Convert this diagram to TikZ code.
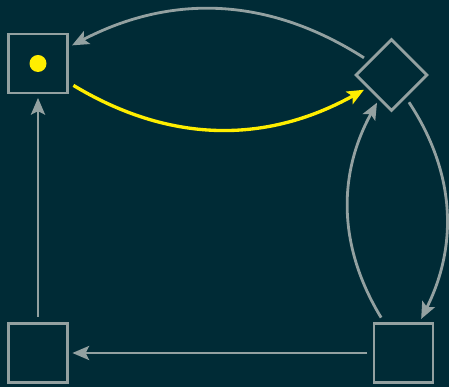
\documentclass[tikz,border=0pt]{standalone}
\usepackage{xcolor}
\usepackage{tikz}
\usetikzlibrary{arrows.meta,positioning,shapes.geometric}

\definecolor{bgteal}{HTML}{002B36}
\definecolor{edgegray}{HTML}{93A1A1}
\definecolor{tokyellow}{HTML}{FFEE00}

\begin{document}
\begin{tikzpicture}[
  >={Stealth[length=9.5pt,width=8pt,inset=2pt]},
  state/.style={draw=edgegray, rectangle, line width=1.6pt,
                minimum size=1.18cm, inner sep=0pt},
  choice/.style={draw=edgegray, diamond, aspect=1, line width=1.6pt,
                 minimum size=1.44cm, inner sep=0pt},
  token/.style={circle, fill=tokyellow, minimum size=0.34cm, inner sep=0pt},
  flow/.style={->, edgegray, line width=1.6pt, shorten >=2pt, shorten <=3pt},
  hot/.style={->, tokyellow, line width=1.9pt, shorten >=2pt, shorten <=3pt},
]

%%---- Background ----------------------------------------------------
\fill[bgteal] (0,0) rectangle (8.98,7.74);
\useasboundingbox (0,0) rectangle (8.98,7.74);

%%---- States --------------------------------------------------------
\node[state]  (TopL) at (0.76, 6.47) {};
\node[token]  (Tok)  at (TopL.center) {};
\node[choice] (Dia)  at (7.83, 6.24) {};
\node[state]  (BotL) at (0.76, 0.68) {};
\node[state]  (BotR) at (8.07, 0.68) {};

%%---- Transitions ---------------------------------------------------
\draw[hot]  (TopL) to[bend right=30] (Dia);
\draw[flow] (Dia)  to[bend right=30] (TopL);
\draw[flow] (Dia)  to[bend left=30]  (BotR);
\draw[flow] (BotR) to[bend left=30]  (Dia);
\draw[flow] (BotR) -- (BotL);
\draw[flow] (BotL) -- (TopL);

\end{tikzpicture}
\end{document}
